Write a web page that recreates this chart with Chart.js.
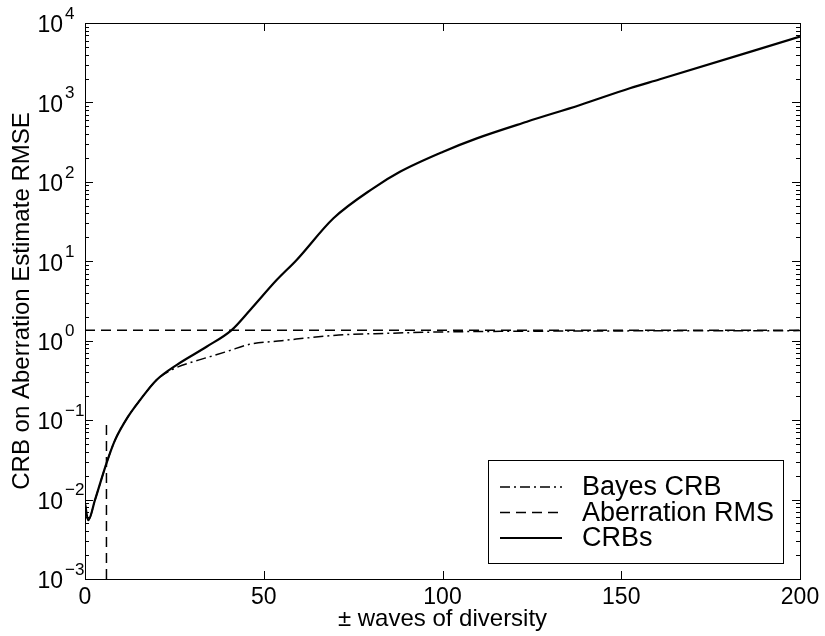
<!DOCTYPE html>
<html>
<head>
<meta charset="utf-8">
<script src="https://cdn.jsdelivr.net/npm/chart.js@4/dist/chart.umd.min.js"></script>
<style>
  html, body { margin:0; padding:0; background:#fff; }
  #wrap { width:825px; height:636px; }
</style>
</head>
<body>
<div id="wrap"><canvas id="c" width="825" height="636"></canvas></div>
<script>
// values
const crbX   = [0, 0.9, 2.8, 6, 8.4, 12, 15.4, 20, 25.6, 34, 41, 46.2, 53.6, 59.2, 69.5, 80.6, 88.1, 100.2, 109.6, 123.6, 138.5, 152.4, 160.8, 200];
const crbY   = [0.009, 0.0055, 0.0099, 0.0286, 0.056, 0.11, 0.179, 0.32, 0.494, 0.84, 1.36, 2.44, 5.8, 10.4, 34.8, 83, 134, 240, 353, 572, 929, 1507, 1955, 6730];
const bayesX = [0, 0.9, 2.8, 6, 8.4, 12, 15.4, 20, 24.2, 30, 35, 40, 46, 55, 71, 85, 100, 130, 200];
const bayesY = [0.009, 0.0055, 0.0099, 0.0286, 0.056, 0.11, 0.179, 0.32, 0.43, 0.54, 0.63, 0.74, 0.9, 1.0, 1.18, 1.24, 1.29, 1.32, 1.34];
const rmsX   = [0, 200];
const rmsY   = [1.35, 1.35];
const markX  = [6, 6];
const markY  = [0.001, 0.1];
const xTicks = [0, 50, 100, 150, 200];
const yExps  = [-3, -2, -1, 0, 1, 2, 3, 4];

const FONT = '"Liberation Sans", Arial, Helvetica, sans-serif';
const pts = (xs, ys) => xs.map((x, i) => ({x: x, y: ys[i]}));

// inward ticks, box, superscript y labels, boxed legend
const matlabAxes = {
  id: 'matlabAxes',
  afterDraw(chart) {
    const ctx = chart.ctx, a = chart.chartArea;
    const xs = chart.scales.x, ys = chart.scales.y;
    ctx.save();
    ctx.strokeStyle = '#000';
    ctx.lineWidth = 1;
    ctx.strokeRect(a.left + 0.5, a.top + 0.5, a.right - a.left, a.bottom - a.top);
    ctx.beginPath();
    xTicks.forEach(v => {
      const px = Math.round(xs.getPixelForValue(v)) + 0.5;
      ctx.moveTo(px, a.bottom); ctx.lineTo(px, a.bottom - 8);
      ctx.moveTo(px, a.top); ctx.lineTo(px, a.top + 8);
    });
    yExps.forEach(e => {
      for (let m = 1; m <= 9; m++) {
        if (e === 4 && m > 1) break;
        const py = Math.round(ys.getPixelForValue(m * Math.pow(10, e))) + 0.5;
        const len = m === 1 ? 8 : 4;
        ctx.moveTo(a.left, py); ctx.lineTo(a.left + len, py);
        ctx.moveTo(a.right, py); ctx.lineTo(a.right - len, py);
      }
    });
    ctx.stroke();

    // y tick labels 10^n
    ctx.fillStyle = '#000';
    yExps.forEach(e => {
      const py = ys.getPixelForValue(Math.pow(10, e));
      ctx.font = '23px ' + FONT;
      ctx.textAlign = 'right';
      ctx.textBaseline = 'middle';
      ctx.fillText('10', 63, py + 3);
      ctx.font = '17px ' + FONT;
      ctx.textAlign = 'left';
      ctx.fillText(e < 0 ? '\u2212' + (-e) : String(e), 65, py - 9);
    });

    // legend
    const bx = 488, by = 460, bw = 295, bh = 103;
    ctx.fillStyle = '#fff';
    ctx.fillRect(bx, by, bw, bh);
    ctx.strokeRect(bx + 0.5, by + 0.5, bw, bh);
    [0, 1, 2].forEach(i => {
      const ds = chart.data.datasets[i];
      const ly = by + 27 + i * 25.5;
      ctx.beginPath();
      ctx.setLineDash(ds.borderDash || []);
      ctx.lineWidth = ds.borderWidth;
      ctx.moveTo(500, ly); ctx.lineTo(562, ly);
      ctx.stroke();
      ctx.setLineDash([]);
      ctx.fillStyle = '#000';
      ctx.font = '27px ' + FONT;
      ctx.textAlign = 'left';
      ctx.textBaseline = 'middle';
      ctx.fillText(ds.label, 582, ly + 1);
    });
    ctx.restore();
  }
};

new Chart(document.getElementById('c'), {
  type: 'line',
  data: {
    datasets: [
      { label: 'Bayes CRB', data: pts(bayesX, bayesY), borderColor: '#000', borderWidth: 1.5,
        borderDash: [10, 4, 2, 4], cubicInterpolationMode: 'monotone' },
      { label: 'Aberration RMS', data: pts(rmsX, rmsY), borderColor: '#000', borderWidth: 1.5,
        borderDash: [10, 6] },
      { label: 'CRBs', data: pts(crbX, crbY), borderColor: '#000', borderWidth: 2.2,
        cubicInterpolationMode: 'monotone' },
      { label: '', data: pts(markX, markY), borderColor: '#000', borderWidth: 1.5,
        borderDash: [10, 6] }
    ]
  },
  options: {
    responsive: false,
    animation: false,
    elements: { point: { radius: 0 } },
    layout: { padding: { top: 23, right: 25, left: 8, bottom: 0 } },
    plugins: { legend: { display: false }, tooltip: { enabled: false } },
    scales: {
      x: {
        type: 'linear', min: 0, max: 200,
        afterBuildTicks: s => { s.ticks = xTicks.map(v => ({value: v})); },
        afterFit: s => { s.height = 57; },
        grid: { display: false, drawTicks: false },
        border: { display: false },
        ticks: { color: '#000', font: { family: FONT, size: 23 }, padding: 5 },
        title: { display: true, text: '\u00b1 waves of diversity', color: '#000',
                 font: { family: FONT, size: 24 }, padding: { top: 0, bottom: 2 } }
      },
      y: {
        type: 'logarithmic', min: 0.001, max: 10000,
        afterFit: s => { s.width = 77; },
        grid: { display: false, drawTicks: false },
        border: { display: false },
        ticks: { display: false },
        title: { display: true, text: 'CRB on Aberration Estimate RMSE', color: '#000',
                 font: { family: FONT, size: 24 }, padding: { top: 0, bottom: 0 } }
      }
    }
  },
  plugins: [matlabAxes]
});
</script>
</body>
</html>
